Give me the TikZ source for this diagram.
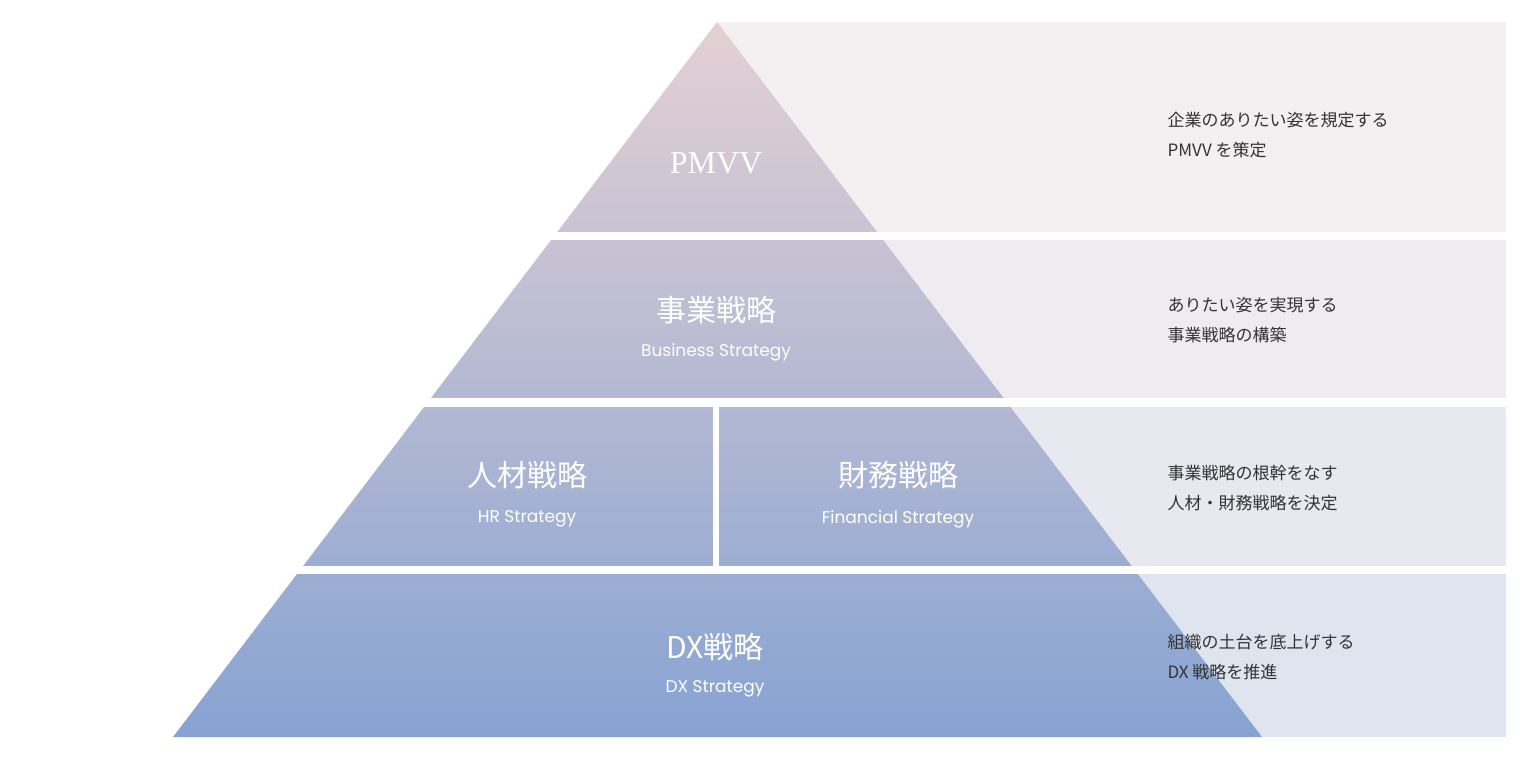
\documentclass[tikz,border=0pt]{standalone}
\usepackage{fontspec}
\setmainfont{Liberation Serif}
\newfontfamily\jp{Noto Sans CJK JP}
\newfontfamily\en{Poppins}
\definecolor{ptop}{HTML}{E4D0D4}
\definecolor{pbot}{HTML}{87A3D2}
\definecolor{ta}{HTML}{F4EFF0}
\definecolor{tb}{HTML}{EEECF1}
\definecolor{tc}{HTML}{E7E8F0}
\definecolor{td}{HTML}{DFE5EF}
\definecolor{txt}{HTML}{333333}
\begin{document}
\begin{tikzpicture}[x=1pt,y=-1pt,
 big/.style={text=white,font=\jp\fontsize{30}{30}\selectfont},
 sub/.style={text=white,font=\en\fontsize{17}{17}\selectfont},
 desc/.style={text=txt,font=\jp\fontsize{17}{30}\selectfont,align=left,anchor=west}]
\useasboundingbox (0,0) rectangle (1520,758);
\fill[white] (0,0) rectangle (1520,758);
\fill[ta] (717,22) rectangle (1506,232);
\fill[tb] (717,240) rectangle (1506,398);
\fill[tc] (717,407) rectangle (1506,566);
\fill[td] (717,574) rectangle (1506,737);
\shade[top color=ptop,bottom color=pbot] (717,22) -- (1262,737) -- (173,737) -- cycle;
\fill[white] (0,232) rectangle (1520,240);
\fill[white] (0,398) rectangle (1520,407);
\fill[white] (0,566) rectangle (1520,574);
\fill[white] (713,407) rectangle (719,566);
\node[text=white,font=\fontsize{32}{32}\selectfont] (p) at (716,163) {PMVV};
\node[big] (b) at (716,310) {事業戦略};
\node[sub] (bs) at (716,352) {Business Strategy};
\node[big] (h) at (527,475) {人材戦略};
\node[sub] (hs) at (527,519) {HR Strategy};
\node[big] (f) at (898,475) {財務戦略};
\node[sub] (fs) at (898,519) {Financial Strategy};
\node[big] (d) at (715,647) {DX戦略};
\node[sub] (ds) at (715,689) {DX Strategy};
\node[desc] (t1) at (1164,135) {企業のありたい姿を規定する\\PMVV を策定};
\node[desc] (t2) at (1164,320) {ありたい姿を実現する\\事業戦略の構築};
\node[desc] (t3) at (1164,488) {事業戦略の根幹をなす\\人材・財務戦略を決定};
\node[desc] (t4) at (1164,657) {組織の土台を底上げする\\DX 戦略を推進};
\end{tikzpicture}
\end{document}
